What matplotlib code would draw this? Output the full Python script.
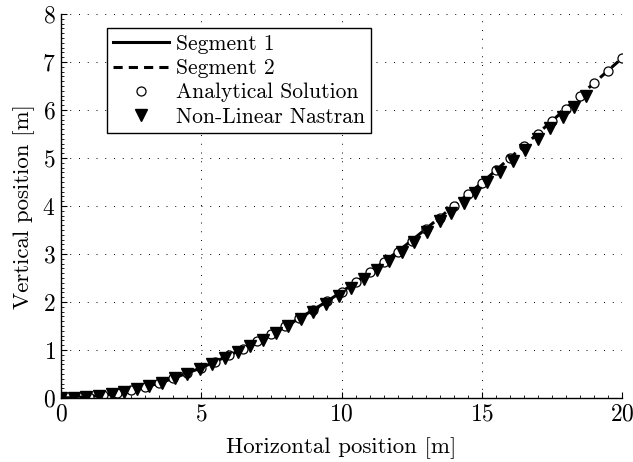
import matplotlib
matplotlib.use("Agg")
import matplotlib.pyplot as plt
from matplotlib.ticker import MultipleLocator

# analytical solution, 0.5 m steps
x_analytic = [0, 0.5, 1, 1.5, 2, 2.5, 3, 3.5, 4, 4.5, 5, 5.5, 6, 6.5, 7, 7.5, 8, 8.5,
              9, 9.5, 10, 10.5, 11, 11.5, 12, 12.5, 13, 13.5, 14, 14.5, 15, 15.5,
              16, 16.5, 17, 17.5, 18, 18.5, 19, 19.5, 20]
y_analytic = [0, 0.01, 0.03, 0.06, 0.1, 0.16, 0.23, 0.31, 0.41, 0.52, 0.63, 0.76,
              0.89, 1.03, 1.18, 1.33, 1.49, 1.66, 1.84, 2.02, 2.21, 2.41, 2.62, 2.83,
              3.05, 3.28, 3.52, 3.76, 4.0, 4.24, 4.48, 4.74, 5.0, 5.25, 5.51, 5.77,
              6.03, 6.3, 6.56, 6.82, 7.08]

# nastran nodes
x_nastran = [0, 0.45, 0.9, 1.35, 1.8, 2.25, 2.7, 3.15, 3.6, 4.05, 4.5, 4.95, 5.4, 5.85,
             6.3, 6.75, 7.2, 7.65, 8.1, 8.55, 9.0, 9.45, 9.9, 10.35, 10.8, 11.25, 11.7,
             12.15, 12.6, 13.05, 13.5, 13.9, 14.35, 14.75, 15.2, 15.65, 16.1, 16.55,
             17.0, 17.45, 17.9, 18.3, 18.7]
y_nastran = [0, 0.01, 0.025, 0.05, 0.08, 0.12, 0.18, 0.24, 0.32, 0.41, 0.5, 0.6, 0.71,
             0.83, 0.95, 1.08, 1.21, 1.35, 1.49, 1.64, 1.8, 1.96, 2.13, 2.3, 2.48, 2.66,
             2.85, 3.05, 3.25, 3.46, 3.68, 3.86, 4.07, 4.27, 4.49, 4.71, 4.94, 5.17,
             5.4, 5.62, 5.86, 6.07, 6.3]

# segment split point (index of x = 10)
split = 20

plt.rcParams["font.family"] = "serif"
plt.rcParams["font.serif"] = ["cmr10", "DejaVu Serif"]
plt.rcParams["mathtext.fontset"] = "cm"
plt.rcParams["axes.formatter.use_mathtext"] = True

fig = plt.figure(figsize=(6.33, 4.62), dpi=100)
ax = fig.add_axes([0.0964, 0.1385, 0.8862, 0.8312])

ax.plot(x_analytic[:split + 1], y_analytic[:split + 1], color="k", lw=2.2,
        label="Segment 1")
ax.plot(x_analytic[split:], y_analytic[split:], color="k", lw=2.2, ls=(0, (3, 2)),
        label="Segment 2")
ax.plot(x_analytic, y_analytic, ls="none", marker="o", ms=6.5, mfc="white",
        mec="k", mew=0.9, label="Analytical Solution")
ax.plot(x_nastran, y_nastran, ls="none", marker="v", ms=8, mfc="k", mec="k",
        label="Non-Linear Nastran")

ax.set_xlim(0, 20)
ax.set_ylim(0, 8)
ax.xaxis.set_major_locator(MultipleLocator(5))
ax.yaxis.set_major_locator(MultipleLocator(1))
ax.xaxis.set_minor_locator(MultipleLocator(0.5))
ax.yaxis.set_minor_locator(MultipleLocator(0.1))
ax.tick_params(which="both", direction="in", labelsize=17, pad=4)
ax.tick_params(which="major", length=4)
ax.tick_params(which="minor", length=2)
ax.grid(True, which="major", color="k", ls=(0, (1, 8)), lw=0.7)
for s in ("top", "right"):
    ax.spines[s].set_visible(False)
for s in ("left", "bottom"):
    ax.spines[s].set_linewidth(1.0)

ax.set_xlabel("Horizontal position [m]", fontsize=16.5, labelpad=8)
ax.set_ylabel("Vertical position [m]", fontsize=16.5, labelpad=5)

leg = ax.legend(loc="upper left", bbox_to_anchor=(0.082, 0.964), fontsize=15.5,
                fancybox=False, edgecolor="k", framealpha=1, handlelength=2.6,
                borderpad=0.3, labelspacing=0.22, handletextpad=0.3,
                borderaxespad=0)
leg.get_frame().set_linewidth(1.0)

fig.savefig("out.png", dpi=100)
